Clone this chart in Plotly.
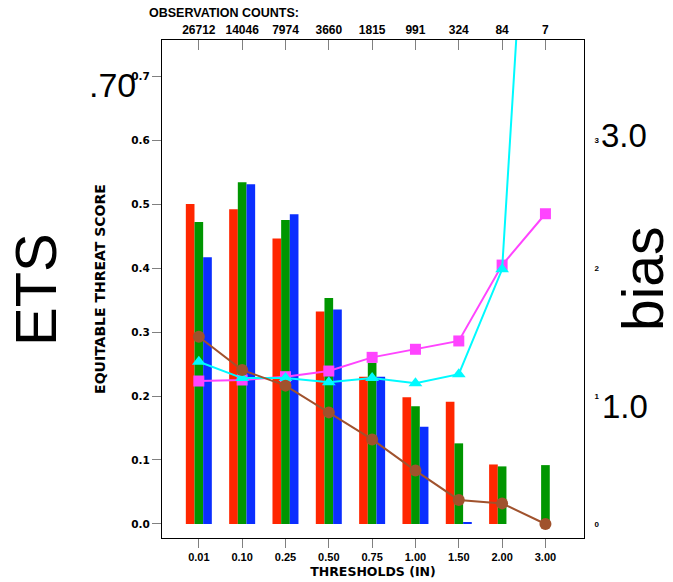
import plotly.graph_objects as go

# Precipitation threshold categories (inches) and observation counts per threshold
thresholds = ["0.01", "0.10", "0.25", "0.50", "0.75", "1.00", "1.50", "2.00", "3.00"]
obs_counts = ["26712", "14046", "7974", "3660", "1815", "991", "324", "84", "7"]

# Equitable threat score for three models (bars, left axis)
ets_red = [0.500, 0.492, 0.446, 0.332, 0.230, 0.198, 0.191, 0.093, None]
ets_green = [0.472, 0.534, 0.475, 0.353, 0.252, 0.184, 0.126, 0.090, 0.092]
ets_blue = [0.417, 0.531, 0.484, 0.335, 0.230, 0.152, 0.002, None, None]

# Frequency bias (lines, right axis)
bias_magenta = [1.117, 1.125, 1.151, 1.195, 1.302, 1.365, 1.430, 2.023, 2.424]
bias_cyan = [1.268, 1.140, 1.140, 1.107, 1.140, 1.099, 1.170, 1.990, 7.500]
bias_brown = [1.463, 1.203, 1.081, 0.872, 0.661, 0.417, 0.188, 0.161, 0.000]

ets_ticks = [0.0, 0.1, 0.2, 0.3, 0.4, 0.5, 0.6, 0.7]
bias_ticks = [0, 1, 2, 3]

W, H = 673, 582
L, R, T, B = 162, 89, 40, 44


def px(x):
    return (x - L) / (W - L - R)


def py(y):
    return (H - B - y) / (H - T - B)


SANS = "Liberation Sans"
BOLD = "DejaVu Sans"

fig = go.Figure()

for vals, col in [(ets_red, "#FF2600"), (ets_green, "#009600"), (ets_blue, "#0A2EFF")]:
    fig.add_trace(go.Bar(x=thresholds, y=vals, marker=dict(color=col, line=dict(width=0)),
                         xaxis="x", yaxis="y", showlegend=False))

fig.add_trace(go.Scatter(x=thresholds, y=bias_magenta, mode="lines+markers",
                         line=dict(color="#FF44FF", width=2),
                         marker=dict(symbol="square", size=11, color="#FF44FF"),
                         xaxis="x", yaxis="y2", showlegend=False))
fig.add_trace(go.Scatter(x=thresholds, y=bias_cyan, mode="lines+markers",
                         line=dict(color="#00FAFF", width=2),
                         marker=dict(symbol="triangle-up", size=12, color="#00FAFF"),
                         xaxis="x", yaxis="y2", showlegend=False))
fig.add_trace(go.Scatter(x=thresholds, y=bias_brown, mode="lines+markers",
                         line=dict(color="#A0522D", width=2),
                         marker=dict(symbol="circle", size=12, color="#A0522D"),
                         xaxis="x", yaxis="y2", showlegend=False))
# invisible carrier for the top (observation count) axis
fig.add_trace(go.Scatter(x=thresholds, y=[None] * len(thresholds), xaxis="x2", yaxis="y",
                         showlegend=False, hoverinfo="skip"))

xrange = [-0.85, 8.89]
fig.update_layout(
    width=W, height=H,
    margin=dict(l=L, r=R, t=T, b=B, autoexpand=False),
    paper_bgcolor="white", plot_bgcolor="white",
    barmode="group", bargap=0.4, bargroupgap=0,
    xaxis=dict(type="category", categoryorder="array", categoryarray=thresholds,
               range=xrange, showline=True, linecolor="black", linewidth=1, automargin=False,
               ticks="outside", ticklen=9, tickcolor="#808080", showgrid=False,
               tickfont=dict(family=SANS, size=11, color="black", weight="bold"),
               title=dict(text="THRESHOLDS (IN)", standoff=5,
                          font=dict(family=BOLD, size=12.5, color="black", weight="bold"))),
    xaxis2=dict(type="category", categoryorder="array", categoryarray=thresholds,
                overlaying="x", side="top", range=xrange, showline=True, linecolor="black",
                linewidth=1, ticks="inside", ticklen=10, tickcolor="#808080", showgrid=False,
                automargin=False, tickmode="array", tickvals=thresholds, ticktext=obs_counts,
                tickfont=dict(family=SANS, size=12, color="black", weight="bold")),
    yaxis=dict(range=[-0.0219, 0.7563], tickmode="array", tickvals=ets_ticks,
               tickformat=".1f", ticks="outside", ticklen=9, tickcolor="#808080",
               showline=True, linecolor="black", linewidth=1, showgrid=False, zeroline=False,
               automargin=False,
               tickfont=dict(family=BOLD, size=10.5, color="black", weight="bold"),
               title=dict(text="EQUITABLE THREAT SCORE", standoff=22,
                          font=dict(family=BOLD, size=14, color="black", weight="bold"))),
    yaxis2=dict(overlaying="y", side="right", range=[-0.1095, 3.7815], tickmode="array",
                tickvals=bias_ticks, ticks="outside", ticklen=8, tickcolor="white",
                showline=True, linecolor="black", linewidth=1, showgrid=False, zeroline=False,
                automargin=False,
                tickfont=dict(family=SANS, size=8, color="black", weight="bold")),
)

annotations = [
    dict(text="OBSERVATION COUNTS:", x=px(147), y=py(13), xanchor="left", yanchor="middle",
         font=dict(family=SANS, size=12.5, color="black", weight="bold")),
    dict(text=".70", x=px(112), y=py(85), xanchor="center", yanchor="middle",
         font=dict(family=SANS, size=34, color="black")),
    dict(text="3.0", x=px(624), y=py(135), xanchor="center", yanchor="middle",
         font=dict(family=SANS, size=33, color="black")),
    dict(text="1.0", x=px(625), y=py(406), xanchor="center", yanchor="middle",
         font=dict(family=SANS, size=33, color="black")),
    dict(text="ETS", x=px(35), y=py(290), xanchor="center", yanchor="middle", textangle=-90,
         font=dict(family=SANS, size=58, color="black")),
    dict(text="bias", x=px(643), y=py(279), xanchor="center", yanchor="middle", textangle=-90,
         font=dict(family=SANS, size=57, color="black")),
]
for a in annotations:
    a.update(xref="paper", yref="paper", showarrow=False)
fig.update_layout(annotations=annotations)

fig.write_html("out.html")
